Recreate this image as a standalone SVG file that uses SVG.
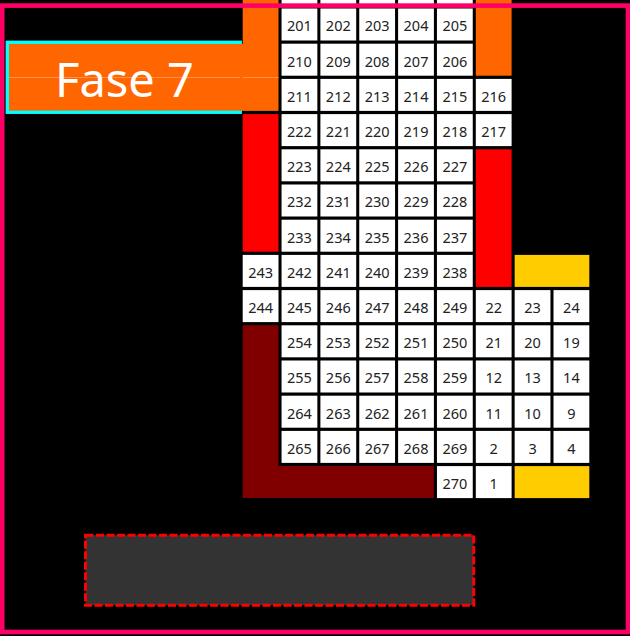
<svg xmlns="http://www.w3.org/2000/svg" width="630" height="636" viewBox="0 0 630 636">
<style>
.cell{fill:#ffffff}
.num{font-family:"Noto Sans","DejaVu Sans",sans-serif;font-size:14.5px;fill:#222222;text-anchor:middle}
.orange{fill:#ff6600}
.red{fill:#ff0000}
.dred{fill:#800000}
.yel{fill:#ffcc00}
</style>
<rect x="0" y="0" width="630" height="636" fill="#000000"/>
<g id="cells">
<g id="top-partial">
<rect class="cell" x="281.55" y="-26.7" width="35.8" height="32"/>
<rect class="cell" x="320.4" y="-26.7" width="35.8" height="32"/>
<rect class="cell" x="359.25" y="-26.7" width="35.8" height="32"/>
<rect class="cell" x="398.1" y="-26.7" width="35.8" height="32"/>
<rect class="cell" x="436.95" y="-26.7" width="35.8" height="32"/>
</g>
<g id="c201"><rect class="cell" x="281.55" y="8.5" width="35.8" height="32"/><text class="num" x="299.45" y="31.3">201</text></g>
<g id="c202"><rect class="cell" x="320.4" y="8.5" width="35.8" height="32"/><text class="num" x="338.3" y="31.3">202</text></g>
<g id="c203"><rect class="cell" x="359.25" y="8.5" width="35.8" height="32"/><text class="num" x="377.15" y="31.3">203</text></g>
<g id="c204"><rect class="cell" x="398.1" y="8.5" width="35.8" height="32"/><text class="num" x="416" y="31.3">204</text></g>
<g id="c205"><rect class="cell" x="436.95" y="8.5" width="35.8" height="32"/><text class="num" x="454.85" y="31.3">205</text></g>

<g id="c210"><rect class="cell" x="281.55" y="43.7" width="35.8" height="32"/><text class="num" x="299.45" y="66.5">210</text></g>
<g id="c209"><rect class="cell" x="320.4" y="43.7" width="35.8" height="32"/><text class="num" x="338.3" y="66.5">209</text></g>
<g id="c208"><rect class="cell" x="359.25" y="43.7" width="35.8" height="32"/><text class="num" x="377.15" y="66.5">208</text></g>
<g id="c207"><rect class="cell" x="398.1" y="43.7" width="35.8" height="32"/><text class="num" x="416" y="66.5">207</text></g>
<g id="c206"><rect class="cell" x="436.95" y="43.7" width="35.8" height="32"/><text class="num" x="454.85" y="66.5">206</text></g>

<g id="c211"><rect class="cell" x="281.55" y="78.9" width="35.8" height="32"/><text class="num" x="299.45" y="101.7">211</text></g>
<g id="c212"><rect class="cell" x="320.4" y="78.9" width="35.8" height="32"/><text class="num" x="338.3" y="101.7">212</text></g>
<g id="c213"><rect class="cell" x="359.25" y="78.9" width="35.8" height="32"/><text class="num" x="377.15" y="101.7">213</text></g>
<g id="c214"><rect class="cell" x="398.1" y="78.9" width="35.8" height="32"/><text class="num" x="416" y="101.7">214</text></g>
<g id="c215"><rect class="cell" x="436.95" y="78.9" width="35.8" height="32"/><text class="num" x="454.85" y="101.7">215</text></g>
<g id="c216"><rect class="cell" x="475.8" y="78.9" width="35.8" height="32"/><text class="num" x="493.7" y="101.7">216</text></g>

<g id="c222"><rect class="cell" x="281.55" y="114.1" width="35.8" height="32"/><text class="num" x="299.45" y="136.9">222</text></g>
<g id="c221"><rect class="cell" x="320.4" y="114.1" width="35.8" height="32"/><text class="num" x="338.3" y="136.9">221</text></g>
<g id="c220"><rect class="cell" x="359.25" y="114.1" width="35.8" height="32"/><text class="num" x="377.15" y="136.9">220</text></g>
<g id="c219"><rect class="cell" x="398.1" y="114.1" width="35.8" height="32"/><text class="num" x="416" y="136.9">219</text></g>
<g id="c218"><rect class="cell" x="436.95" y="114.1" width="35.8" height="32"/><text class="num" x="454.85" y="136.9">218</text></g>
<g id="c217"><rect class="cell" x="475.8" y="114.1" width="35.8" height="32"/><text class="num" x="493.7" y="136.9">217</text></g>

<g id="c223"><rect class="cell" x="281.55" y="149.3" width="35.8" height="32"/><text class="num" x="299.45" y="172.1">223</text></g>
<g id="c224"><rect class="cell" x="320.4" y="149.3" width="35.8" height="32"/><text class="num" x="338.3" y="172.1">224</text></g>
<g id="c225"><rect class="cell" x="359.25" y="149.3" width="35.8" height="32"/><text class="num" x="377.15" y="172.1">225</text></g>
<g id="c226"><rect class="cell" x="398.1" y="149.3" width="35.8" height="32"/><text class="num" x="416" y="172.1">226</text></g>
<g id="c227"><rect class="cell" x="436.95" y="149.3" width="35.8" height="32"/><text class="num" x="454.85" y="172.1">227</text></g>

<g id="c232"><rect class="cell" x="281.55" y="184.5" width="35.8" height="32"/><text class="num" x="299.45" y="207.3">232</text></g>
<g id="c231"><rect class="cell" x="320.4" y="184.5" width="35.8" height="32"/><text class="num" x="338.3" y="207.3">231</text></g>
<g id="c230"><rect class="cell" x="359.25" y="184.5" width="35.8" height="32"/><text class="num" x="377.15" y="207.3">230</text></g>
<g id="c229"><rect class="cell" x="398.1" y="184.5" width="35.8" height="32"/><text class="num" x="416" y="207.3">229</text></g>
<g id="c228"><rect class="cell" x="436.95" y="184.5" width="35.8" height="32"/><text class="num" x="454.85" y="207.3">228</text></g>

<g id="c233"><rect class="cell" x="281.55" y="219.7" width="35.8" height="32"/><text class="num" x="299.45" y="242.5">233</text></g>
<g id="c234"><rect class="cell" x="320.4" y="219.7" width="35.8" height="32"/><text class="num" x="338.3" y="242.5">234</text></g>
<g id="c235"><rect class="cell" x="359.25" y="219.7" width="35.8" height="32"/><text class="num" x="377.15" y="242.5">235</text></g>
<g id="c236"><rect class="cell" x="398.1" y="219.7" width="35.8" height="32"/><text class="num" x="416" y="242.5">236</text></g>
<g id="c237"><rect class="cell" x="436.95" y="219.7" width="35.8" height="32"/><text class="num" x="454.85" y="242.5">237</text></g>

<g id="c243"><rect class="cell" x="242.7" y="254.9" width="35.8" height="32"/><text class="num" x="260.6" y="277.7">243</text></g>
<g id="c242"><rect class="cell" x="281.55" y="254.9" width="35.8" height="32"/><text class="num" x="299.45" y="277.7">242</text></g>
<g id="c241"><rect class="cell" x="320.4" y="254.9" width="35.8" height="32"/><text class="num" x="338.3" y="277.7">241</text></g>
<g id="c240"><rect class="cell" x="359.25" y="254.9" width="35.8" height="32"/><text class="num" x="377.15" y="277.7">240</text></g>
<g id="c239"><rect class="cell" x="398.1" y="254.9" width="35.8" height="32"/><text class="num" x="416" y="277.7">239</text></g>
<g id="c238"><rect class="cell" x="436.95" y="254.9" width="35.8" height="32"/><text class="num" x="454.85" y="277.7">238</text></g>

<g id="c244"><rect class="cell" x="242.7" y="290.1" width="35.8" height="32"/><text class="num" x="260.6" y="312.9">244</text></g>
<g id="c245"><rect class="cell" x="281.55" y="290.1" width="35.8" height="32"/><text class="num" x="299.45" y="312.9">245</text></g>
<g id="c246"><rect class="cell" x="320.4" y="290.1" width="35.8" height="32"/><text class="num" x="338.3" y="312.9">246</text></g>
<g id="c247"><rect class="cell" x="359.25" y="290.1" width="35.8" height="32"/><text class="num" x="377.15" y="312.9">247</text></g>
<g id="c248"><rect class="cell" x="398.1" y="290.1" width="35.8" height="32"/><text class="num" x="416" y="312.9">248</text></g>
<g id="c249"><rect class="cell" x="436.95" y="290.1" width="35.8" height="32"/><text class="num" x="454.85" y="312.9">249</text></g>
<g id="c22"><rect class="cell" x="475.8" y="290.1" width="35.8" height="32"/><text class="num" x="493.7" y="312.9">22</text></g>
<g id="c23"><rect class="cell" x="514.65" y="290.1" width="35.8" height="32"/><text class="num" x="532.55" y="312.9">23</text></g>
<g id="c24"><rect class="cell" x="553.5" y="290.1" width="35.8" height="32"/><text class="num" x="571.4" y="312.9">24</text></g>

<g id="c254"><rect class="cell" x="281.55" y="325.3" width="35.8" height="32"/><text class="num" x="299.45" y="348.1">254</text></g>
<g id="c253"><rect class="cell" x="320.4" y="325.3" width="35.8" height="32"/><text class="num" x="338.3" y="348.1">253</text></g>
<g id="c252"><rect class="cell" x="359.25" y="325.3" width="35.8" height="32"/><text class="num" x="377.15" y="348.1">252</text></g>
<g id="c251"><rect class="cell" x="398.1" y="325.3" width="35.8" height="32"/><text class="num" x="416" y="348.1">251</text></g>
<g id="c250"><rect class="cell" x="436.95" y="325.3" width="35.8" height="32"/><text class="num" x="454.85" y="348.1">250</text></g>
<g id="c21"><rect class="cell" x="475.8" y="325.3" width="35.8" height="32"/><text class="num" x="493.7" y="348.1">21</text></g>
<g id="c20"><rect class="cell" x="514.65" y="325.3" width="35.8" height="32"/><text class="num" x="532.55" y="348.1">20</text></g>
<g id="c19"><rect class="cell" x="553.5" y="325.3" width="35.8" height="32"/><text class="num" x="571.4" y="348.1">19</text></g>

<g id="c255"><rect class="cell" x="281.55" y="360.5" width="35.8" height="32"/><text class="num" x="299.45" y="383.3">255</text></g>
<g id="c256"><rect class="cell" x="320.4" y="360.5" width="35.8" height="32"/><text class="num" x="338.3" y="383.3">256</text></g>
<g id="c257"><rect class="cell" x="359.25" y="360.5" width="35.8" height="32"/><text class="num" x="377.15" y="383.3">257</text></g>
<g id="c258"><rect class="cell" x="398.1" y="360.5" width="35.8" height="32"/><text class="num" x="416" y="383.3">258</text></g>
<g id="c259"><rect class="cell" x="436.95" y="360.5" width="35.8" height="32"/><text class="num" x="454.85" y="383.3">259</text></g>
<g id="c12"><rect class="cell" x="475.8" y="360.5" width="35.8" height="32"/><text class="num" x="493.7" y="383.3">12</text></g>
<g id="c13"><rect class="cell" x="514.65" y="360.5" width="35.8" height="32"/><text class="num" x="532.55" y="383.3">13</text></g>
<g id="c14"><rect class="cell" x="553.5" y="360.5" width="35.8" height="32"/><text class="num" x="571.4" y="383.3">14</text></g>

<g id="c264"><rect class="cell" x="281.55" y="395.7" width="35.8" height="32"/><text class="num" x="299.45" y="418.5">264</text></g>
<g id="c263"><rect class="cell" x="320.4" y="395.7" width="35.8" height="32"/><text class="num" x="338.3" y="418.5">263</text></g>
<g id="c262"><rect class="cell" x="359.25" y="395.7" width="35.8" height="32"/><text class="num" x="377.15" y="418.5">262</text></g>
<g id="c261"><rect class="cell" x="398.1" y="395.7" width="35.8" height="32"/><text class="num" x="416" y="418.5">261</text></g>
<g id="c260"><rect class="cell" x="436.95" y="395.7" width="35.8" height="32"/><text class="num" x="454.85" y="418.5">260</text></g>
<g id="c11"><rect class="cell" x="475.8" y="395.7" width="35.8" height="32"/><text class="num" x="493.7" y="418.5">11</text></g>
<g id="c10"><rect class="cell" x="514.65" y="395.7" width="35.8" height="32"/><text class="num" x="532.55" y="418.5">10</text></g>
<g id="c9"><rect class="cell" x="553.5" y="395.7" width="35.8" height="32"/><text class="num" x="571.4" y="418.5">9</text></g>

<g id="c265"><rect class="cell" x="281.55" y="430.9" width="35.8" height="32"/><text class="num" x="299.45" y="453.7">265</text></g>
<g id="c266"><rect class="cell" x="320.4" y="430.9" width="35.8" height="32"/><text class="num" x="338.3" y="453.7">266</text></g>
<g id="c267"><rect class="cell" x="359.25" y="430.9" width="35.8" height="32"/><text class="num" x="377.15" y="453.7">267</text></g>
<g id="c268"><rect class="cell" x="398.1" y="430.9" width="35.8" height="32"/><text class="num" x="416" y="453.7">268</text></g>
<g id="c269"><rect class="cell" x="436.95" y="430.9" width="35.8" height="32"/><text class="num" x="454.85" y="453.7">269</text></g>
<g id="c2"><rect class="cell" x="475.8" y="430.9" width="35.8" height="32"/><text class="num" x="493.7" y="453.7">2</text></g>
<g id="c3"><rect class="cell" x="514.65" y="430.9" width="35.8" height="32"/><text class="num" x="532.55" y="453.7">3</text></g>
<g id="c4"><rect class="cell" x="553.5" y="430.9" width="35.8" height="32"/><text class="num" x="571.4" y="453.7">4</text></g>

<g id="c270"><rect class="cell" x="436.95" y="466.1" width="35.8" height="32"/><text class="num" x="454.85" y="488.9">270</text></g>
<g id="c1"><rect class="cell" x="475.8" y="466.1" width="35.8" height="32"/><text class="num" x="493.7" y="488.9">1</text></g>
</g>
<g id="bars">
<rect id="orange-left" class="orange" x="242.7" y="0" width="35.8" height="110.9"/>
<rect id="orange-right" class="orange" x="475.8" y="0" width="35.8" height="75.7"/>
<rect id="red-left" class="red" x="242.7" y="114.1" width="35.8" height="137.6"/>
<rect id="red-right" class="red" x="475.8" y="149.3" width="35.8" height="137.6"/>
<rect id="yellow-top" class="yel" x="514.65" y="254.9" width="74.65" height="32"/>
<rect id="yellow-bottom" class="yel" x="514.65" y="466.1" width="74.65" height="32"/>
<polygon id="darkred-l" class="dred" points="242.7,325.3 278.5,325.3 278.5,466.1 433.9,466.1 433.9,498.1 242.7,498.1"/>
</g>
<g id="label-fase7">
<rect x="7.3" y="42.3" width="233" height="70" fill="#ff6600" stroke="#00ffff" stroke-width="3.3"/>
<rect x="238" y="44" width="6" height="66.7" fill="#ff6600"/>
<line x1="9" y1="77.5" x2="240" y2="77.5" stroke="#ff9050" stroke-width="1"/>
<line x1="243" y1="77.5" x2="278.5" y2="77.5" stroke="#ff9050" stroke-width="1"/>
<text x="55" y="96.7" font-family="'Noto Sans','DejaVu Sans',sans-serif" font-size="47" fill="#ffffff">Fase 7</text>
</g>
<rect id="frame" x="2.2" y="5.6" width="625.8" height="626.4" fill="none" stroke="#ff0066" stroke-width="4.6"/>
<rect id="dashed-box" x="85.5" y="535.2" width="388.2" height="70.1" fill="#333333" stroke="#ff0000" stroke-width="3" stroke-dasharray="8 2.5"/>
</svg>
